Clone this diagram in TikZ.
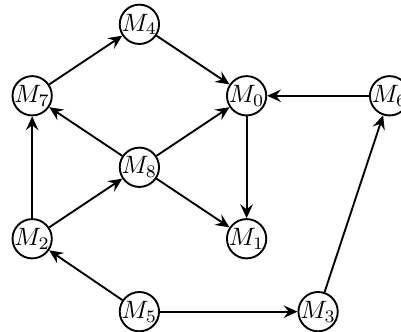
\documentclass[tikz,border=0pt]{standalone}
\usepackage{tikz}
\usetikzlibrary{arrows.meta, positioning}

\begin{document}
\begin{tikzpicture}[
	module/.style={circle, draw, line width=0.75pt, inner sep=-0.6pt, minimum size=0.55cm},
	arrow/.style={line width=0.75pt, -{Stealth[length=5.5pt, width=5pt, inset=2pt]}}
	]
	\useasboundingbox (-0.45,0.7) rectangle (5.16,5.34);
	
	% Nodes
	\node[module] (m4) at (1.5,5) {$M_4$};
	\node[module] (m7) at (0,4) {$M_7$};
	\node[module] (m0) at (3,4) {$M_0$};
	\node[module] (m6) at (5,4) {$M_6$};
	\node[module] (m8) at (1.5,3) {$M_8$};
	\node[module] (m2) at (0,2) {$M_2$};
	\node[module] (m1) at (3,2) {$M_1$};
	\node[module] (m5) at (1.5,0.98) {$M_5$};
	\node[module] (m3) at (4,0.98) {$M_3$};
	
	% Arrows
	\draw[arrow] (m7) -- (m4);
	\draw[arrow] (m4) -- (m0);
	\draw[arrow] (m6) -- (m0);
	\draw[arrow] (m8) -- (m7);
	\draw[arrow] (m8) -- (m0);
	\draw[arrow] (m8) -- (m1);
	\draw[arrow] (m0) -- (m1);
	\draw[arrow] (m2) -- (m7);
	\draw[arrow] (m2) -- (m8);
	\draw[arrow] (m5) -- (m2);
	\draw[arrow] (m5) -- (m3);
	\draw[arrow] (m3) -- (m6);
\end{tikzpicture}
\end{document}
